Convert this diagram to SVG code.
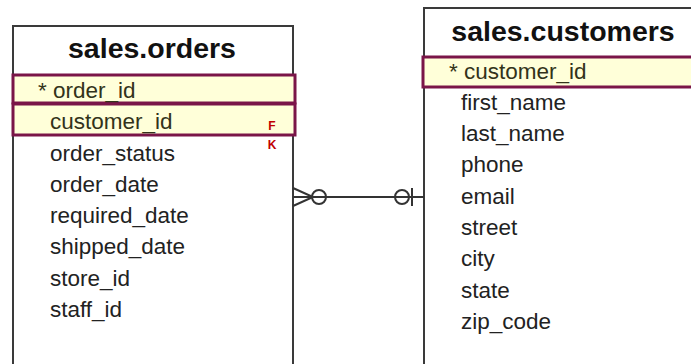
<svg xmlns="http://www.w3.org/2000/svg" width="691" height="364" viewBox="0 0 691 364">
<style>
.box{fill:#fff;stroke:#3a3a3a;stroke-width:2}
.key{fill:#ffffd9;stroke:#7a1548;stroke-width:3}
.title{font-family:"Liberation Sans",Arial,sans-serif;font-weight:bold;font-size:28.5px;fill:#111;text-anchor:middle}
.col{font-family:"Liberation Sans",Arial,sans-serif;font-size:22.5px;fill:#222}
.kt{fill:#33331a}
.fk{font-family:"Liberation Sans",Arial,sans-serif;font-weight:bold;font-size:12px;fill:#c00000;text-anchor:middle}
.ln{fill:none;stroke:#333;stroke-width:2}
</style>
<rect width="691" height="364" fill="#fff"/>
<g id="orders">
<rect class="box" x="13" y="26" width="280" height="350"/>
<text class="title" x="152" y="58">sales.orders</text>
<rect class="key" x="13" y="75" width="282" height="28"/>
<rect class="key" x="13" y="104" width="282" height="31"/>
<text class="col kt" x="38" y="98">* order_id</text>
<text class="col kt" x="50" y="129">customer_id</text>
<text class="fk" x="272" y="130">F</text>
<text class="fk" x="272" y="149">K</text>
<text class="col" x="50" y="161">order_status</text>
<text class="col" x="50" y="192">order_date</text>
<text class="col" x="50" y="223">required_date</text>
<text class="col" x="50" y="254">shipped_date</text>
<text class="col" x="50" y="286">store_id</text>
<text class="col" x="50" y="317">staff_id</text>
</g>
<g id="customers">
<rect class="box" x="424" y="8" width="290" height="370"/>
<text class="title" x="563" y="41">sales.customers</text>
<rect class="key" x="423" y="57" width="290" height="30"/>
<text class="col kt" x="449" y="79">* customer_id</text>
<text class="col" x="461" y="110">first_name</text>
<text class="col" x="461" y="141">last_name</text>
<text class="col" x="461" y="172">phone</text>
<text class="col" x="461" y="204">email</text>
<text class="col" x="461" y="235">street</text>
<text class="col" x="461" y="266">city</text>
<text class="col" x="461" y="298">state</text>
<text class="col" x="461" y="329">zip_code</text>
</g>
<g id="connectors">
<line class="ln" x1="293" y1="197" x2="424" y2="197"/>
<path class="ln" d="M293 188 L313 197 L293 206"/>
<circle class="ln" cx="319" cy="197" r="7" fill="#fff"/>
<circle class="ln" cx="402" cy="197" r="7" fill="#fff"/>
<line class="ln" x1="412" y1="188" x2="412" y2="206"/>
</g>
</svg>
